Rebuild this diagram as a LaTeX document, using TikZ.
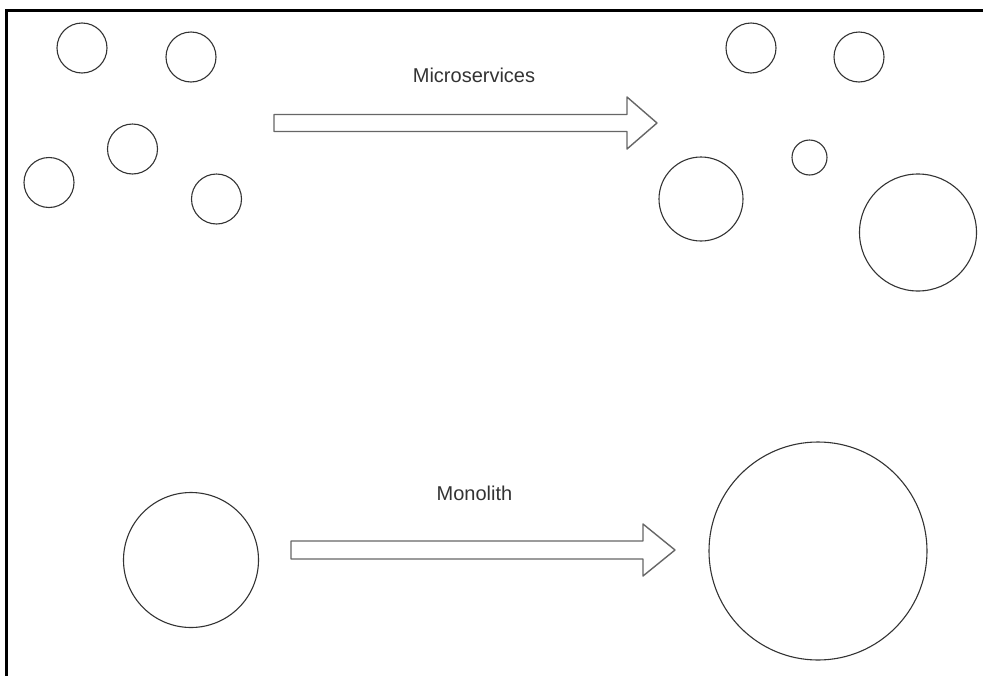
\documentclass[tikz,border=0pt]{standalone}
\usepackage{fontspec}
\setmainfont{Liberation Sans}
\usepackage{tikz}

\begin{document}
\begin{tikzpicture}[
    x=1pt, y=-1pt,
    svc/.style={circle, draw=black!80, line width=1.1pt,
                inner sep=0pt, minimum size=50pt},
    blockarr/.style={draw=black!60, line width=1.4pt,
                     line join=round, fill=white},
    lbl/.style={font=\fontsize{20}{24}\selectfont,
                text=black!80, anchor=base},
]
\useasboundingbox (0,0) rectangle (983,675);

%% ─── Frame ──────────────────────────────────────────────────────────────────
\draw[line width=3pt] (6,676) -- (6,10) -- (984,10);

%% ─── Microservices: before ──────────────────────────────────────────────────
\node[svc] (ms_a) at (82,48)    {};
\node[svc] (ms_b) at (191,57)   {};
\node[svc] (ms_c) at (132.5,149) {};
\node[svc] (ms_d) at (49,182.5) {};
\node[svc] (ms_e) at (216.5,199) {};

%% ─── Microservices: after ───────────────────────────────────────────────────
\node[svc] (ms_f) at (751,48)   {};
\node[svc] (ms_g) at (859,57)   {};
\node[svc, minimum size=35pt]  (ms_h) at (809.5,157.5) {};
\node[svc, minimum size=84pt]  (ms_i) at (701,199)     {};
\node[svc, minimum size=117pt] (ms_j) at (918,232.5)   {};

%% ─── Microservices arrow ────────────────────────────────────────────────────
\draw[blockarr] (274,114.5) -- (627,114.5) -- (627,97) -- (657,123)
    -- (627,149) -- (627,131.5) -- (274,131.5) -- cycle;
\node[lbl] (ms_lbl) at (474,82.5) {Microservices};

%% ─── Monolith ───────────────────────────────────────────────────────────────
\node[svc, minimum size=135pt] (mono_a) at (191,560)  {};
\node[svc, minimum size=218pt] (mono_b) at (818,551)  {};

\draw[blockarr] (291,541) -- (643,541) -- (643,524) -- (675,550)
    -- (643,576) -- (643,559) -- (291,559) -- cycle;
\node[lbl] (mono_lbl) at (474.5,500.5) {Monolith};

\end{tikzpicture}
\end{document}
